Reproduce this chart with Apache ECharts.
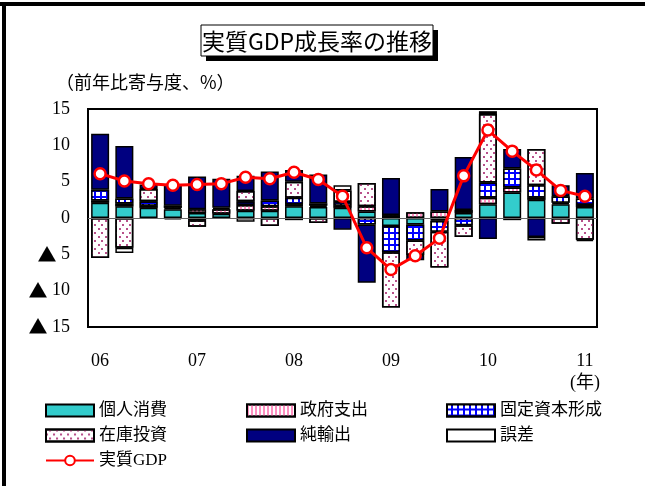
<!DOCTYPE html>
<html>
<head>
<meta charset="utf-8">
<script src="https://cdn.jsdelivr.net/npm/echarts@6/dist/echarts.min.js"></script>
<style>
  html, body { margin: 0; padding: 0; background: #fff; }
  #chart { width: 645px; height: 486px; }
</style>
</head>
<body>
<div id="chart"></div>
<script>
// 2006Q1 - 2011Q1, 前年比寄与度 (%)
const quarters = ['06', '', '', '', '07', '', '', '', '08', '', '', '', '09', '', '', '', '10', '', '', '', '11']
const consumption = [2.1, 1.6, 1.4, 1.2, 0.7, 0.6, 1.0, 1.0, 1.6, 1.5, 1.4, 0.9, -1.1, -0.9, -0.4, 0.7, 1.9, 3.5, 2.5, 1.9, 1.5]
const government = [0.3, 0.4, 0.3, 0.2, 0.5, 0.6, 0.8, 0.6, 0.3, 0.2, 0.3, 0.7, 0.4, 0.8, 0.9, 0.4, 0.9, 0.7, 0.3, 0.2, 0.3]
const fixedCapital = [1.5, 0.7, 0.6, 0.3, -0.3, 0.2, 0.5, 0.8, 0.9, 0.3, 0.5, -0.9, -3.6, -2.2, -1.5, -1.0, 2.1, 2.6, 1.7, 0.9, 0.9]
const inventory = [-5.5, -4.1, 1.7, null, -0.9, null, 1.4, -1.1, 2.2, -0.7, 1.6, 3.2, -7.6, -2.0, -4.9, -1.6, 9.4, null, 5.0, -0.8, -3.0]
const netExports = [7.7, 7.2, 0.6, 2.9, 4.5, 4.0, 2.1, 4.0, 1.6, 4.0, -1.6, -8.0, 5.1, -0.7, 3.1, 7.3, -2.9, 2.7, -2.6, 1.5, 3.5]
const discrepancy = [null, -0.7, null, -0.2, null, -0.1, -0.5, null, -0.3, null, 0.7, null, null, null, null, null, 0.4, -0.3, -0.5, null, -0.2]
const realGdp = [6.1, 5.1, 4.7, 4.5, 4.6, 4.7, 5.6, 5.4, 6.3, 5.3, 3.0, -4.1, -7.1, -5.2, -2.8, 5.8, 12.1, 9.2, 6.6, 3.8, 3.0]

const serif = "'Liberation Serif', 'Noto Sans CJK JP', serif"
const gothic = "'Noto Sans CJK JP', sans-serif"

const barSeries = (name, data, itemStyle) => ({
  name: name,
  type: 'bar',
  stack: 'total',
  barWidth: 18,
  data: data,
  itemStyle: Object.assign({ borderColor: '#000', borderWidth: 1.5 }, itemStyle)
})

const legendBox = (left, data) => ({
  left: left,
  top: 397,
  orient: 'vertical',
  itemWidth: 48,
  itemHeight: 12,
  itemGap: 8,
  textStyle: { fontSize: 17, fontFamily: serif, color: '#000' },
  data: data
})

const myChart = echarts.init(document.getElementById('chart'))
const option = {
  animation: false,
  backgroundColor: '#fff',
  graphic: [
    // 外枠
    { type: 'line', shape: { x1: 0, y1: 4, x2: 645, y2: 4 }, style: { stroke: '#000', lineWidth: 4 } },
    { type: 'line', shape: { x1: 4, y1: 4, x2: 4, y2: 486 }, style: { stroke: '#000', lineWidth: 4 } },
    // タイトルの箱
    { type: 'rect', z: 1, shape: { x: 206, y: 30, width: 232, height: 31 }, style: { fill: '#000' } },
    { type: 'rect', z: 2, shape: { x: 201, y: 25, width: 232, height: 31 }, style: { fill: '#fff', stroke: '#000', lineWidth: 1 } },
    { type: 'text', z: 3, x: 317, y: 41, style: { text: '実質GDP成長率の推移', font: '23px ' + gothic, fill: '#000', align: 'center', verticalAlign: 'middle' } },
    { type: 'text', z: 3, x: 56, y: 82, style: { text: '（前年比寄与度、%）', font: '18px ' + gothic, fill: '#000', align: 'left', verticalAlign: 'middle' } }
  ],
  grid: {
    left: 88,
    top: 109,
    right: 48,
    bottom: 159,
    show: true,
    borderColor: '#000',
    borderWidth: 2,
    backgroundColor: '#fff'
  },
  legend: [
    legendBox(40, [{ name: '個人消費', icon: 'rect' }, { name: '在庫投資', icon: 'rect' }, '実質GDP']),
    legendBox(241, [{ name: '政府支出', icon: 'rect' }, { name: '純輸出', icon: 'rect' }]),
    legendBox(441, [{ name: '固定資本形成', icon: 'rect' }, { name: '誤差', icon: 'rect' }])
  ],
  xAxis: {
    type: 'category',
    data: quarters,
    axisLine: { show: false },
    axisTick: { show: false },
    axisLabel: {
      interval: 0,
      margin: 23,
      color: '#000',
      fontSize: 18,
      fontFamily: serif,
      lineHeight: 22,
      formatter: v => (v === '11' ? '11\n(年)' : v)
    }
  },
  yAxis: {
    type: 'value',
    min: -15,
    max: 15,
    interval: 5,
    axisLine: { show: false },
    axisTick: { show: false },
    splitLine: { show: false },
    axisLabel: {
      margin: 18,
      color: '#000',
      fontSize: 18,
      fontFamily: serif,
      formatter: v => (v < 0 ? '{t|▲} ' + -v : String(v)),
      rich: {
        t: { fontSize: 19, fontFamily: gothic, color: '#000' }
      }
    }
  },
  series: [
    Object.assign(barSeries('個人消費', consumption, { color: '#33cccc' }), {
      markLine: {
        silent: true,
        symbol: 'none',
        label: { show: false },
        lineStyle: { color: '#666', width: 1, type: 'solid' },
        data: [{ yAxis: 0 }]
      }
    }),
    barSeries('政府支出', government, {
      color: '#fff',
      decal: { symbol: 'rect', symbolSize: 1, color: '#ff8fc0', dashArrayX: [2, 2], dashArrayY: [1, 0] }
    }),
    barSeries('固定資本形成', fixedCapital, {
      color: '#0000ff',
      decal: { symbol: 'rect', symbolSize: 1, color: '#fff', dashArrayX: [4, 1.5], dashArrayY: [3.5, 1.5] }
    }),
    barSeries('在庫投資', inventory, {
      color: '#fff',
      decal: { symbol: 'rect', symbolSize: 1, color: '#b8508a', dashArrayX: [[1.5, 4.5], [0, 3, 1.5, 1.5]], dashArrayY: [1.5, 1.5] }
    }),
    barSeries('純輸出', netExports, { color: '#000080' }),
    barSeries('誤差', discrepancy, { color: '#fff' }),
    {
      name: '実質GDP',
      type: 'line',
      data: realGdp,
      symbol: 'circle',
      symbolSize: 11,
      lineStyle: { color: '#ff0000', width: 3 },
      itemStyle: { color: '#fff', borderColor: '#ff0000', borderWidth: 2.5 },
      z: 5
    }
  ]
}

option && myChart.setOption(option)
</script>
</body>
</html>
